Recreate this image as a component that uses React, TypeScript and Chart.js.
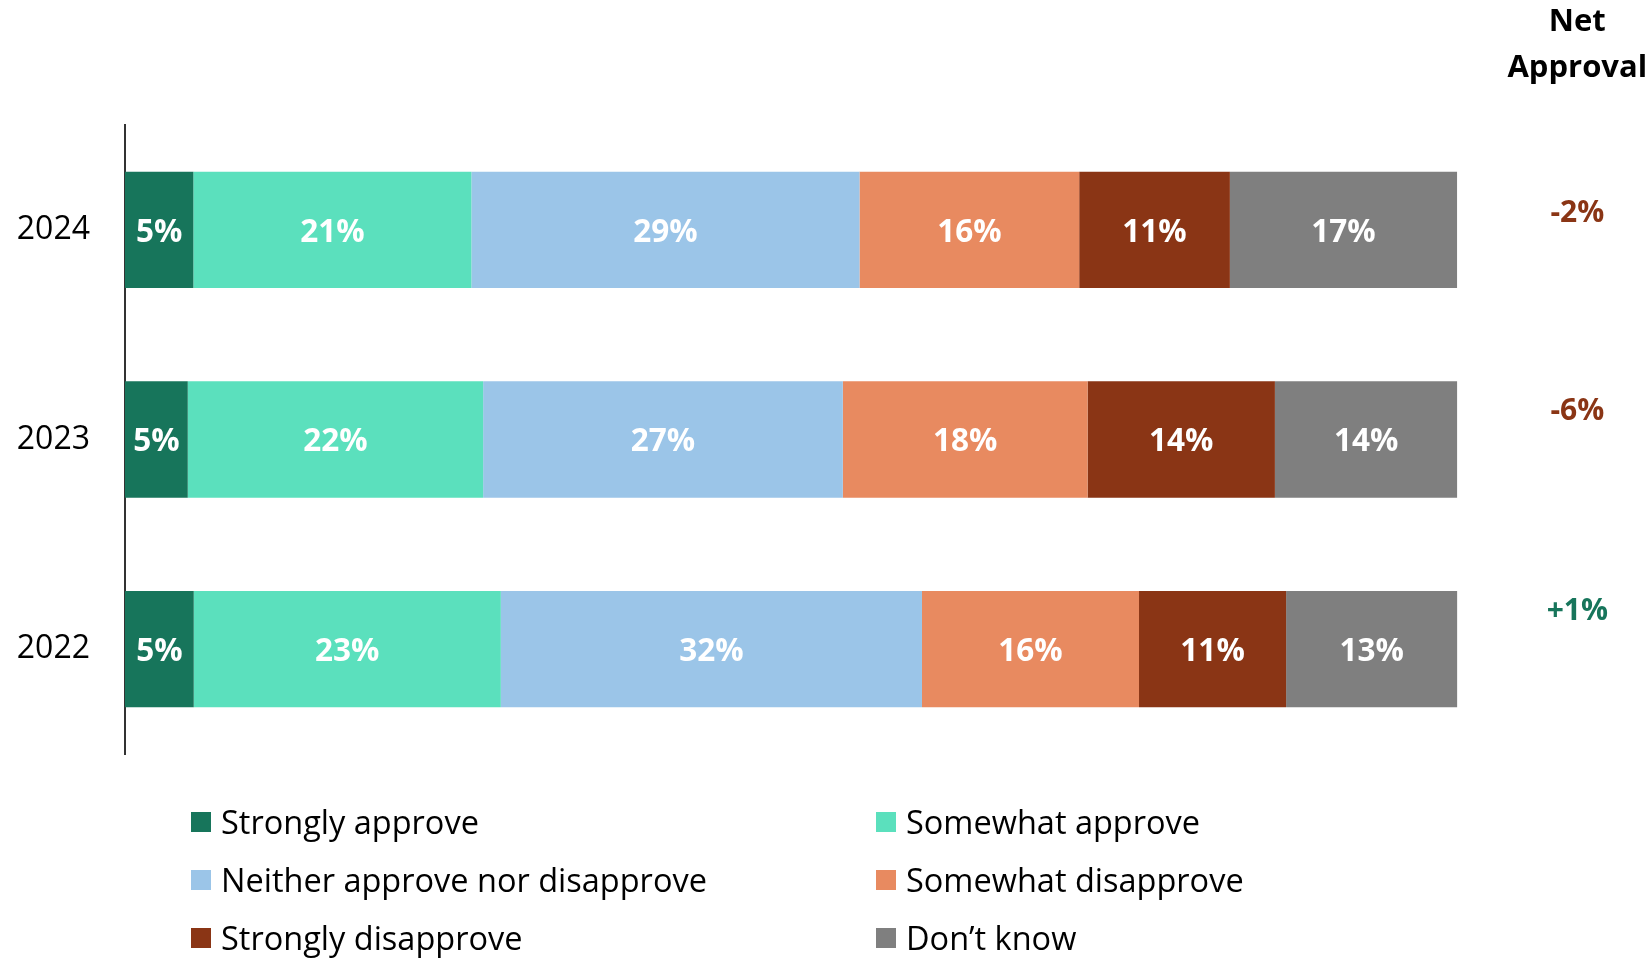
import React, { useEffect, useRef } from "react";
import { Chart, registerables } from "chart.js";

Chart.register(...registerables);

const years = ["2024", "2023", "2022"];
const seriesNames = [
  "Strongly approve",
  "Somewhat approve",
  "Neither approve nor disapprove",
  "Somewhat disapprove",
  "Strongly disapprove",
  "Don\u2019t know",
];
const seriesColors = ["#17755B", "#5BE0BD", "#9BC5E8", "#E88A60", "#8A3515", "#7F7F7F"];

// Bar lengths (in %)
const stronglyApprove = [5.13, 4.71, 5.16];
const somewhatApprove = [20.87, 22.17, 23.05];
const neitherNor = [29.13, 27.0, 31.61];
const somewhatDisapprove = [16.49, 18.37, 16.29];
const stronglyDisapprove = [11.31, 14.06, 11.04];
const dontKnow = [17.06, 13.69, 12.86];

// Printed labels (%)
const stronglyApproveLabels = [5, 5, 5];
const somewhatApproveLabels = [21, 22, 23];
const neitherNorLabels = [29, 27, 32];
const somewhatDisapproveLabels = [16, 18, 16];
const stronglyDisapproveLabels = [11, 14, 11];
const dontKnowLabels = [17, 14, 13];

const netApproval = [-2, -6, 1];
const netHeader = ["Net", "Approval"];

const seriesValues = [stronglyApprove, somewhatApprove, neitherNor, somewhatDisapprove, stronglyDisapprove, dontKnow];
const seriesLabels = [
  stronglyApproveLabels,
  somewhatApproveLabels,
  neitherNorLabels,
  somewhatDisapproveLabels,
  stronglyDisapproveLabels,
  dontKnowLabels,
];

const FONT = "'Open Sans', 'DejaVu Sans', sans-serif";
const netOffsets = [-16, -28, -38];

const dataLabelPlugin = {
  id: "dataLabels",
  afterDatasetsDraw(chart: any) {
    const ctx = chart.ctx;
    ctx.save();
    ctx.font = `bold 31.5px ${FONT}`;
    ctx.fillStyle = "#FFFFFF";
    ctx.textAlign = "center";
    ctx.textBaseline = "middle";
    chart.data.datasets.forEach((ds: any, di: number) => {
      const meta = chart.getDatasetMeta(di);
      meta.data.forEach((el: any, i: number) => {
        const p = el.getProps(["x", "y", "base"], true);
        const cx = (p.x + p.base) / 2;
        ctx.fillText(`${seriesLabels[di][i]}%`, cx, p.y + 3);
      });
    });
    ctx.restore();
  },
};

const netPlugin = {
  id: "netApproval",
  afterDraw(chart: any) {
    const ctx = chart.ctx;
    const area = chart.chartArea;
    const yScale = chart.scales.y;
    const cx = area.right + 120;
    ctx.save();
    ctx.textAlign = "center";
    ctx.textBaseline = "middle";
    ctx.font = `bold 31px ${FONT}`;
    ctx.fillStyle = "#000000";
    ctx.fillText(netHeader[0], cx, 22);
    ctx.fillText(netHeader[1], cx, 68);
    netApproval.forEach((v, i) => {
      const y = yScale.getPixelForValue(i) + netOffsets[i];
      ctx.fillStyle = v >= 0 ? seriesColors[0] : seriesColors[4];
      ctx.font = `bold 30px ${FONT}`;
      ctx.fillText(`${v > 0 ? "+" : ""}${v}%`, cx, y);
    });
    ctx.restore();
  },
};

const legendPlugin = {
  id: "customLegend",
  afterDraw(chart: any) {
    const ctx = chart.ctx;
    const colX = [191, 876];
    const rowY = [822, 880, 938];
    const box = 20;
    ctx.save();
    ctx.font = `32.5px ${FONT}`;
    ctx.textAlign = "left";
    ctx.textBaseline = "middle";
    seriesNames.forEach((name, i) => {
      const col = i % 2;
      const row = Math.floor(i / 2);
      const x = colX[col];
      const y = rowY[row];
      ctx.fillStyle = seriesColors[i];
      ctx.fillRect(x, y - box / 2, box, box);
      ctx.fillStyle = "#000000";
      ctx.fillText(name, x + 30, y + 3);
    });
    ctx.restore();
  },
};

export default function App() {
  const canvasRef = useRef<HTMLCanvasElement | null>(null);

  useEffect(() => {
    document.body.style.margin = "0";
    const canvas = canvasRef.current;
    if (!canvas) return;
    const chart = new Chart(canvas, {
      type: "bar",
      data: {
        labels: years,
        datasets: seriesNames.map((name, i) => ({
          label: name,
          data: seriesValues[i],
          backgroundColor: seriesColors[i],
          borderWidth: 0,
          categoryPercentage: 1,
          barPercentage: 0.555,
        })),
      },
      options: {
        indexAxis: "y",
        animation: false,
        responsive: true,
        maintainAspectRatio: false,
        layout: { padding: { left: 0, right: 192.7, top: 125, bottom: 205 } },
        plugins: {
          legend: { display: false },
          tooltip: { enabled: false },
          title: { display: false },
        },
        scales: {
          x: { stacked: true, min: 0, max: 100, display: false },
          y: {
            stacked: true,
            grid: { display: false, drawTicks: false },
            border: { display: true, color: "#333333", width: 2 },
            ticks: {
              color: "#000000",
              padding: 35,
              font: { family: FONT, size: 32 },
            },
            afterFit(scale: any) {
              scale.width = 125;
            },
          },
        },
      },
      plugins: [dataLabelPlugin, netPlugin, legendPlugin],
    } as any);
    return () => chart.destroy();
  }, []);

  return (
    <div style={{ position: "absolute", left: 0, top: 0, width: 1650, height: 959 }}>
      <canvas ref={canvasRef} />
    </div>
  );
}
